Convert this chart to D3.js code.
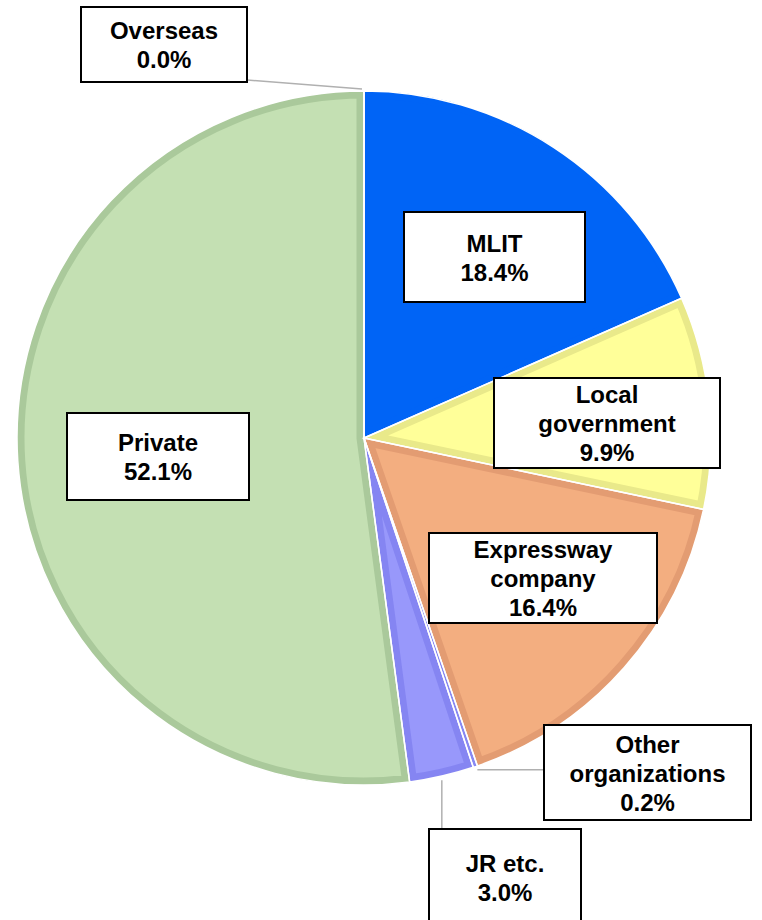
<!DOCTYPE html>
<html>
<head>
<meta charset="utf-8">
<script src="https://cdn.jsdelivr.net/npm/d3@7"></script>
<style>
  html, body { margin: 0; padding: 0; background: #fff; }
  svg { display: block; }
</style>
</head>
<body>
<svg id="chart" width="762" height="920"></svg>
<script>
// ---- data ----
const categories = ["MLIT", "Local government", "Expressway company", "Other organizations", "JR etc.", "Private", "Overseas"];
const values = [18.4, 9.9, 16.4, 0.2, 3.0, 52.1, 0.0];
const labelLines = [["MLIT"], ["Local", "government"], ["Expressway", "company"], ["Other", "organizations"], ["JR etc."], ["Private"], ["Overseas"]];
const fillColors = ["#0064f6", "#ffff99", "#f3ae80", "#a8a8ff", "#9898fb", "#c4e0b3", "#c4e0b3"];
const edgeColors = ["#0064f6", "#e9e98a", "#e39c72", "#8888f2", "#8585f2", "#aac99b", "#aac99b"];

// ---- layout (label boxes: centre x, centre y, width, height) ----
const boxes = [
  {cx: 494.5, cy: 257, w: 181, h: 90},
  {cx: 607, cy: 423, w: 226, h: 90},
  {cx: 543, cy: 578, w: 228, h: 90},
  {cx: 647.5, cy: 772.5, w: 207, h: 95},
  {cx: 505, cy: 877, w: 152, h: 96},
  {cx: 158, cy: 456.5, w: 182, h: 87},
  {cx: 164, cy: 44.5, w: 166, h: 75}
];

const W = 762, H = 920;
const cx = 364, cy = 438, R = 347;
const svg = d3.select("#chart");

const pie = d3.pie().sort(null).value(d => d.v);
const data = categories.map((c, i) => ({c, v: values[i], i}));
const arcs = pie(data);
const arc = d3.arc().innerRadius(0).outerRadius(R);

const g = svg.append("g").attr("transform", `translate(${cx},${cy})`);
const defs = svg.append("defs");

arcs.forEach((a, i) => {
  defs.append("clipPath").attr("id", "clip" + i)
    .append("path").attr("d", arc(a));
});

// fills
g.selectAll("path.fill").data(arcs).join("path")
  .attr("class", "fill")
  .attr("d", arc)
  .attr("fill", d => fillColors[d.data.i]);

// inner darker borders
g.selectAll("path.edge").data(arcs).join("path")
  .attr("class", "edge")
  .attr("d", arc)
  .attr("fill", "none")
  .attr("stroke", d => edgeColors[d.data.i])
  .attr("stroke-width", 15)
  .attr("stroke-linejoin", "round")
  .attr("clip-path", d => `url(#clip${d.data.i})`);

// thin white separators
g.selectAll("path.sep").data(arcs).join("path")
  .attr("class", "sep")
  .attr("d", arc)
  .attr("fill", "none")
  .attr("stroke", "#ffffff")
  .attr("stroke-width", 1.5);

// ---- leader lines for the small slices ----
const idxOther = categories.indexOf("Other organizations");
const idxJR = categories.indexOf("JR etc.");
const idxOver = categories.indexOf("Overseas");
function edgePoint(a, r) {
  const ang = (a.startAngle + a.endAngle) / 2;
  return [cx + r * Math.sin(ang), cy - r * Math.cos(ang)];
}
const leaders = [];
{
  const p = edgePoint(arcs[idxOther], R);
  const b = boxes[idxOther];
  leaders.push([[p[0] + 2, p[1] + 3], [b.cx - b.w / 2, p[1] + 3]]);
}
{
  const p = edgePoint(arcs[idxJR], R);
  const b = boxes[idxJR];
  leaders.push([[p[0], p[1] + 4], [p[0], b.cy - b.h / 2]]);
}
{
  const p = edgePoint(arcs[idxOver], R);
  const b = boxes[idxOver];
  leaders.push([[b.cx + b.w / 2, b.cy + b.h / 2 - 2], [p[0] - 2, p[1] - 2]]);
}
svg.selectAll("line.leader").data(leaders).join("line")
  .attr("class", "leader")
  .attr("x1", d => d[0][0]).attr("y1", d => d[0][1])
  .attr("x2", d => d[1][0]).attr("y2", d => d[1][1])
  .attr("stroke", "#b0b0b0").attr("stroke-width", 1.5);

// ---- label boxes ----
const fs = 24, lh = 29;
const lab = svg.selectAll("g.lab").data(arcs).join("g").attr("class", "lab");
lab.append("rect")
  .attr("x", d => boxes[d.data.i].cx - boxes[d.data.i].w / 2)
  .attr("y", d => boxes[d.data.i].cy - boxes[d.data.i].h / 2)
  .attr("width", d => boxes[d.data.i].w)
  .attr("height", d => boxes[d.data.i].h)
  .attr("fill", "#fff")
  .attr("stroke", "#000")
  .attr("stroke-width", 2);
lab.each(function(d) {
  const b = boxes[d.data.i];
  const lines = labelLines[d.data.i].concat([d3.format(".1f")(d.data.v) + "%"]);
  const n = lines.length;
  const t = d3.select(this).append("text")
    .attr("text-anchor", "middle")
    .attr("font-family", "Liberation Sans, Arial, sans-serif")
    .attr("font-weight", "bold")
    .attr("font-size", fs)
    .attr("fill", "#000");
  lines.forEach((s, k) => {
    t.append("tspan")
      .attr("x", b.cx)
      .attr("y", b.cy + (k - (n - 1) / 2) * lh + 9)
      .text(s);
  });
});
</script>
</body>
</html>
